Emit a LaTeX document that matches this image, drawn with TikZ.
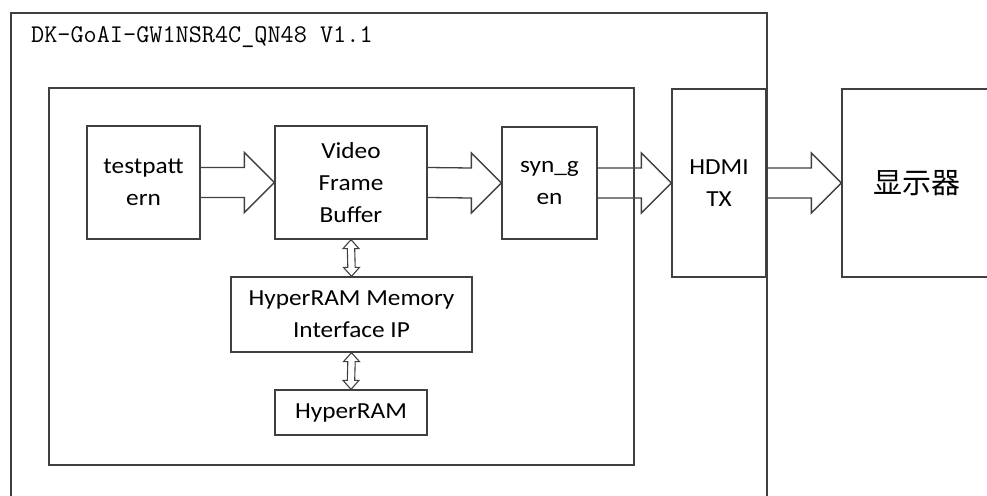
\documentclass[tikz,border=0pt]{standalone}
\usepackage{fontspec}
\setmainfont{Carlito}[FakeStretch=1.1]
\newfontfamily\cjk{Noto Sans CJK SC}
\usetikzlibrary{calc}
\tikzset{
	wire/.style = {draw=black!75, line width=1.3pt, line join=miter},
	blk/.style = {wire, rectangle, inner sep=0pt, align=center, font=\fontsize{23}{32}\selectfont},
}
% wide arrow from one block to the next
\newcommand{\bigarrow}[2]{%
	\draw[wire] ($(#1.east)+(0,-15)$) -- ($(#2.west)+(-30,-15)$) -- ($(#2.west)+(-30,-30)$) -- (#2.west)
		-- ($(#2.west)+(-30,30)$) -- ($(#2.west)+(-30,15)$) -- ($(#1.east)+(0,15)$);}
% thin two-way arrow
\newcommand{\dblarrow}[2]{%
	\draw[wire, line width=1.1pt] (#1.south) -- ++(8,9) -- ++(-4.3,0) -- ($(#2.north)+(3.7,-9)$) -- ++(4.3,0) -- (#2.north)
		-- ++(-8,-9) -- ++(4.3,0) -- ($(#1.south)+(-3.7,9)$) -- ++(-4.3,0) -- cycle;}
\begin{document}
\begin{tikzpicture}[x=1pt, y=-1pt]
			\useasboundingbox (0,0) rectangle (987,495);
			\clip (0,0) rectangle (987,495);
			\node[blk, minimum width=756, minimum height=507] (board) at (389, 266.5) {};
			\node[anchor=west, inner sep=0pt, font=\ttfamily\fontsize{25.5}{25.5}\selectfont] (title) at (31, 37) {DK-GoAI-GW1NSR4C\_QN48 V1.1};
			\node[blk, minimum width=585, minimum height=377] (fpga) at (341.5, 276.5) {};
			\node[blk, minimum width=113, minimum height=113] (tp) at (143.5, 182.5) {testpatt\\ern};
			\node[blk, minimum width=152, minimum height=113] (vfb) at (351, 182.5) {Video\\Frame\\Buffer};
			\node[blk, minimum width=95, minimum height=112] (sg) at (549.5, 183) {syn\_g\\en};
			\node[blk, minimum width=94, minimum height=188] (hdmi) at (719, 183) {HDMI\\TX};
			\node[blk, minimum width=150, minimum height=188, font=\cjk\fontsize{29}{29}\selectfont] (disp) at (917, 183) {显示器};
			\node[blk, minimum width=241, minimum height=75] (mem) at (351.5, 314.5) {HyperRAM Memory\\Interface IP};
			\node[blk, minimum width=152, minimum height=45] (ram) at (351, 412.5) {HyperRAM};
			\bigarrow{tp}{vfb}
			\bigarrow{vfb}{sg}
			\bigarrow{sg}{hdmi}
			\bigarrow{hdmi}{disp}
			\dblarrow{vfb}{mem}
			\dblarrow{mem}{ram}
\end{tikzpicture}
\end{document}
